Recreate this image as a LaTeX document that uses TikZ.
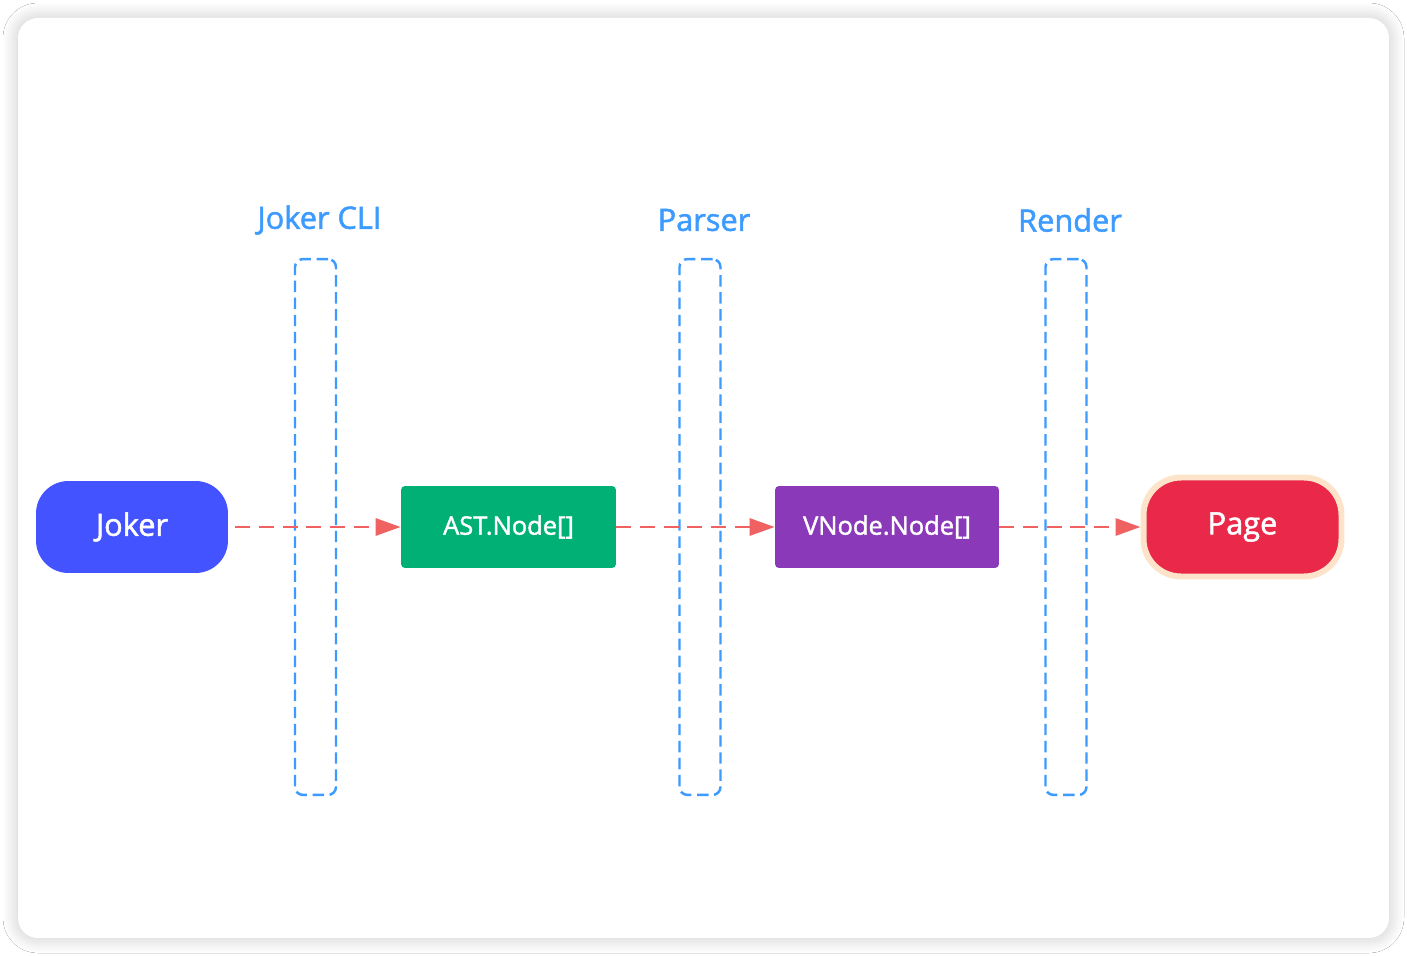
\documentclass[tikz,border=0pt]{standalone}
\usepackage{fontspec}
\setmainfont{Open Sans}[FakeBold=1.6]
\usetikzlibrary{arrows.meta,positioning,shadows.blur}

\definecolor{jokerblue}{HTML}{4353FF}
\definecolor{astgreen}{HTML}{00B074}
\definecolor{vnodepurple}{HTML}{8A3AB9}
\definecolor{pagered}{HTML}{E9284A}
\definecolor{pageborder}{HTML}{FDE3C9}
\definecolor{laneblue}{HTML}{3D9BFF}
\definecolor{flowred}{HTML}{F06262}

\tikzset{
  card/.style={fill=white, rounded corners=0.4cm,
    blur shadow={shadow xshift=0pt, shadow yshift=0pt, shadow blur radius=0.3cm,
      shadow blur steps=15, shadow opacity=22}},
  pill/.style={rounded corners=0.65cm, minimum width=3.84cm, minimum height=1.84cm,
    text=white, font=\fontsize{17.5}{20}\selectfont},
  datanode/.style={rounded corners=0.08cm, minimum width=4.3cm, minimum height=1.64cm,
    text=white, font=\fontsize{14.5}{17}\selectfont},
  lane/.style={draw=laneblue, line width=1.4pt, dash pattern=on 6.5pt off 3.2pt,
    rounded corners=0.16cm, minimum width=0.82cm, minimum height=10.72cm},
  lanelabel/.style={text=laneblue, font=\fontsize{17.5}{20}\selectfont},
  flow/.style={draw=flowred, line width=1.7pt, dash pattern=on 8.5pt off 5pt,
    -{Triangle[length=0.5cm,width=0.34cm]}, shorten <=0.14cm}
}

\begin{document}
\begin{tikzpicture}[x=0.02cm,y=-0.02cm]
\useasboundingbox (0,0) rectangle (1407,956);
\fill[white] (0,0) rectangle (1407,956);
\path[card] (18,18) rectangle (1389,938); % the card

% lanes with their titles
\foreach \name/\x/\title in {cli/315.5/Joker CLI, parser/700/Parser, render/1066/Render}
{
  \node[lane] (\name) at (\x,527) {};
  \node[lanelabel] (\name label) at (\x+4,220) {\title};
}

% the flow
\node[pill, fill=jokerblue] (joker) at (132,527) {Joker};
\node[datanode, fill=astgreen] (ast) at (508.5,527) {AST.Node[]};
\node[datanode, fill=vnodepurple, minimum width=4.48cm] (vnode) at (887,527) {VNode.Node[]};
\node[pill, fill=pagered, draw=pageborder, line width=3.4pt, minimum width=3.96cm,
  minimum height=1.98cm, rounded corners=0.75cm] (page) at (1242.5,527) {Page};

\draw[flow] (joker) -- (ast);
\draw[flow, shorten <=0pt] (ast) -- (vnode);
\draw[flow, shorten <=0pt] (vnode) -- (page);
\end{tikzpicture}
\end{document}
